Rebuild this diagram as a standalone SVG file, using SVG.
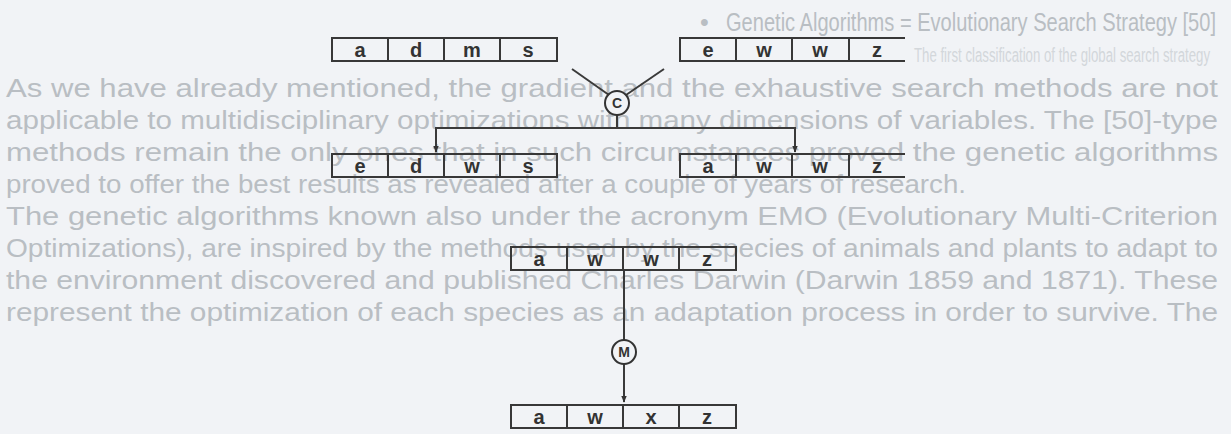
<svg xmlns="http://www.w3.org/2000/svg" width="1231" height="434" viewBox="0 0 1231 434">
<style>
.bg{font-family:"Liberation Sans",Arial,sans-serif;font-size:25px;fill:#b9bec3}
.bgf{font-family:"Liberation Sans",Arial,sans-serif;font-size:20px;fill:#d3d7db}
.box{fill:none;stroke:#383838;stroke-width:2}
.lt{font-family:"Liberation Sans",Arial,sans-serif;font-size:20px;font-weight:bold;fill:#333;text-anchor:middle}
.cn{fill:none;stroke:#3a3a3a;stroke-width:2}
.circ{fill:#f1f3f6;stroke:#333;stroke-width:2}
.cl{font-family:"Liberation Sans",Arial,sans-serif;font-size:14px;font-weight:bold;fill:#333;text-anchor:middle}
</style>
<defs>
<marker id="ah" viewBox="0 0 10 10" refX="9" refY="5" markerWidth="7" markerHeight="7" orient="auto" markerUnits="userSpaceOnUse">
<path d="M0,1 L10,5 L0,9 z" fill="#333"/>
</marker>
</defs>
<rect width="1231" height="434" fill="#f1f3f6"/>
<g id="background-text">
<text class="bg" x="700" y="31">•</text>
<text class="bg" x="726" y="31" textLength="490" lengthAdjust="spacingAndGlyphs">Genetic Algorithms = Evolutionary Search Strategy [50]</text>
<text class="bgf" x="914" y="62" textLength="296" lengthAdjust="spacingAndGlyphs">The first classification of the global search strategy</text>
<text class="bg" x="6" y="97" textLength="1212" lengthAdjust="spacingAndGlyphs">As we have already mentioned, the gradient and the exhaustive search methods are not</text>
<text class="bg" x="6" y="129" textLength="1212" lengthAdjust="spacingAndGlyphs">applicable to multidisciplinary optimizations with many dimensions of variables. The [50]-type</text>
<text class="bg" x="6" y="161" textLength="1212" lengthAdjust="spacingAndGlyphs">methods remain the only ones that in such circumstances proved the genetic algorithms</text>
<text class="bg" x="6" y="193" textLength="960" lengthAdjust="spacingAndGlyphs">proved to offer the best results as revealed after a couple of years of research.</text>
<text class="bg" x="6" y="225" textLength="1212" lengthAdjust="spacingAndGlyphs">The genetic algorithms known also under the acronym EMO (Evolutionary Multi-Criterion</text>
<text class="bg" x="6" y="257" textLength="1212" lengthAdjust="spacingAndGlyphs">Optimizations), are inspired by the methods used by the species of animals and plants to adapt to</text>
<text class="bg" x="6" y="289" textLength="1212" lengthAdjust="spacingAndGlyphs">the environment discovered and published Charles Darwin (Darwin 1859 and 1871). These</text>
<text class="bg" x="6" y="321" textLength="1212" lengthAdjust="spacingAndGlyphs">represent the optimization of each species as an adaptation process in order to survive. The</text>
</g>
<g id="connectors">
<line class="cn" x1="572" y1="69" x2="609" y2="95"/>
<line class="cn" x1="664" y1="69" x2="626" y2="95"/>
<line class="cn" x1="617" y1="115" x2="617" y2="128"/>
<line class="cn" x1="435" y1="128" x2="796" y2="128"/>
<line class="cn" x1="436" y1="127" x2="436" y2="152" marker-end="url(#ah)"/>
<line class="cn" x1="795" y1="127" x2="795" y2="152" marker-end="url(#ah)"/>
<line class="cn" x1="624" y1="270" x2="624" y2="340"/>
<line class="cn" x1="624" y1="364" x2="624" y2="402" marker-end="url(#ah)"/>
</g>
<g id="box-adms">
<rect class="box" x="332" y="38" width="225" height="23"/>
<path class="box" d="M388,38V61M444,38V61M500,38V61"/>
<text class="lt" x="360" y="57">a</text><text class="lt" x="416" y="57">d</text><text class="lt" x="472" y="57">m</text><text class="lt" x="528" y="57">s</text>
</g>
<g id="box-ewwz">
<path class="box" d="M905,38H680V61H905M736,38V61M792,38V61M849,38V61"/>
<text class="lt" x="708" y="57">e</text><text class="lt" x="764" y="57">w</text><text class="lt" x="820" y="57">w</text><text class="lt" x="877" y="57">z</text>
</g>
<g id="crossover">
<circle class="circ" cx="617" cy="103" r="12"/>
<text class="cl" x="617" y="108">C</text>
</g>
<g id="box-edws">
<rect class="box" x="332" y="154" width="225" height="23"/>
<path class="box" d="M388,154V177M444,154V177M500,154V177"/>
<text class="lt" x="360" y="173">e</text><text class="lt" x="416" y="173">d</text><text class="lt" x="472" y="173">w</text><text class="lt" x="528" y="173">s</text>
</g>
<g id="box-awwz-1">
<path class="box" d="M905,154H680V177H905M736,154V177M792,154V177M849,154V177"/>
<text class="lt" x="708" y="173">a</text><text class="lt" x="764" y="173">w</text><text class="lt" x="820" y="173">w</text><text class="lt" x="877" y="173">z</text>
</g>
<g id="box-awwz-2">
<rect class="box" x="511" y="247" width="225" height="23"/>
<path class="box" d="M567,247V270M623,247V270M679,247V270"/>
<text class="lt" x="539" y="266">a</text><text class="lt" x="595" y="266">w</text><text class="lt" x="651" y="266">w</text><text class="lt" x="707" y="266">z</text>
</g>
<g id="mutation">
<circle class="circ" cx="624" cy="352" r="12"/>
<text class="cl" x="624" y="357">M</text>
</g>
<g id="box-awxz">
<rect class="box" x="511" y="405" width="225" height="23"/>
<path class="box" d="M567,405V428M623,405V428M679,405V428"/>
<text class="lt" x="539" y="424">a</text><text class="lt" x="595" y="424">w</text><text class="lt" x="651" y="424">x</text><text class="lt" x="707" y="424">z</text>
</g>
</svg>
